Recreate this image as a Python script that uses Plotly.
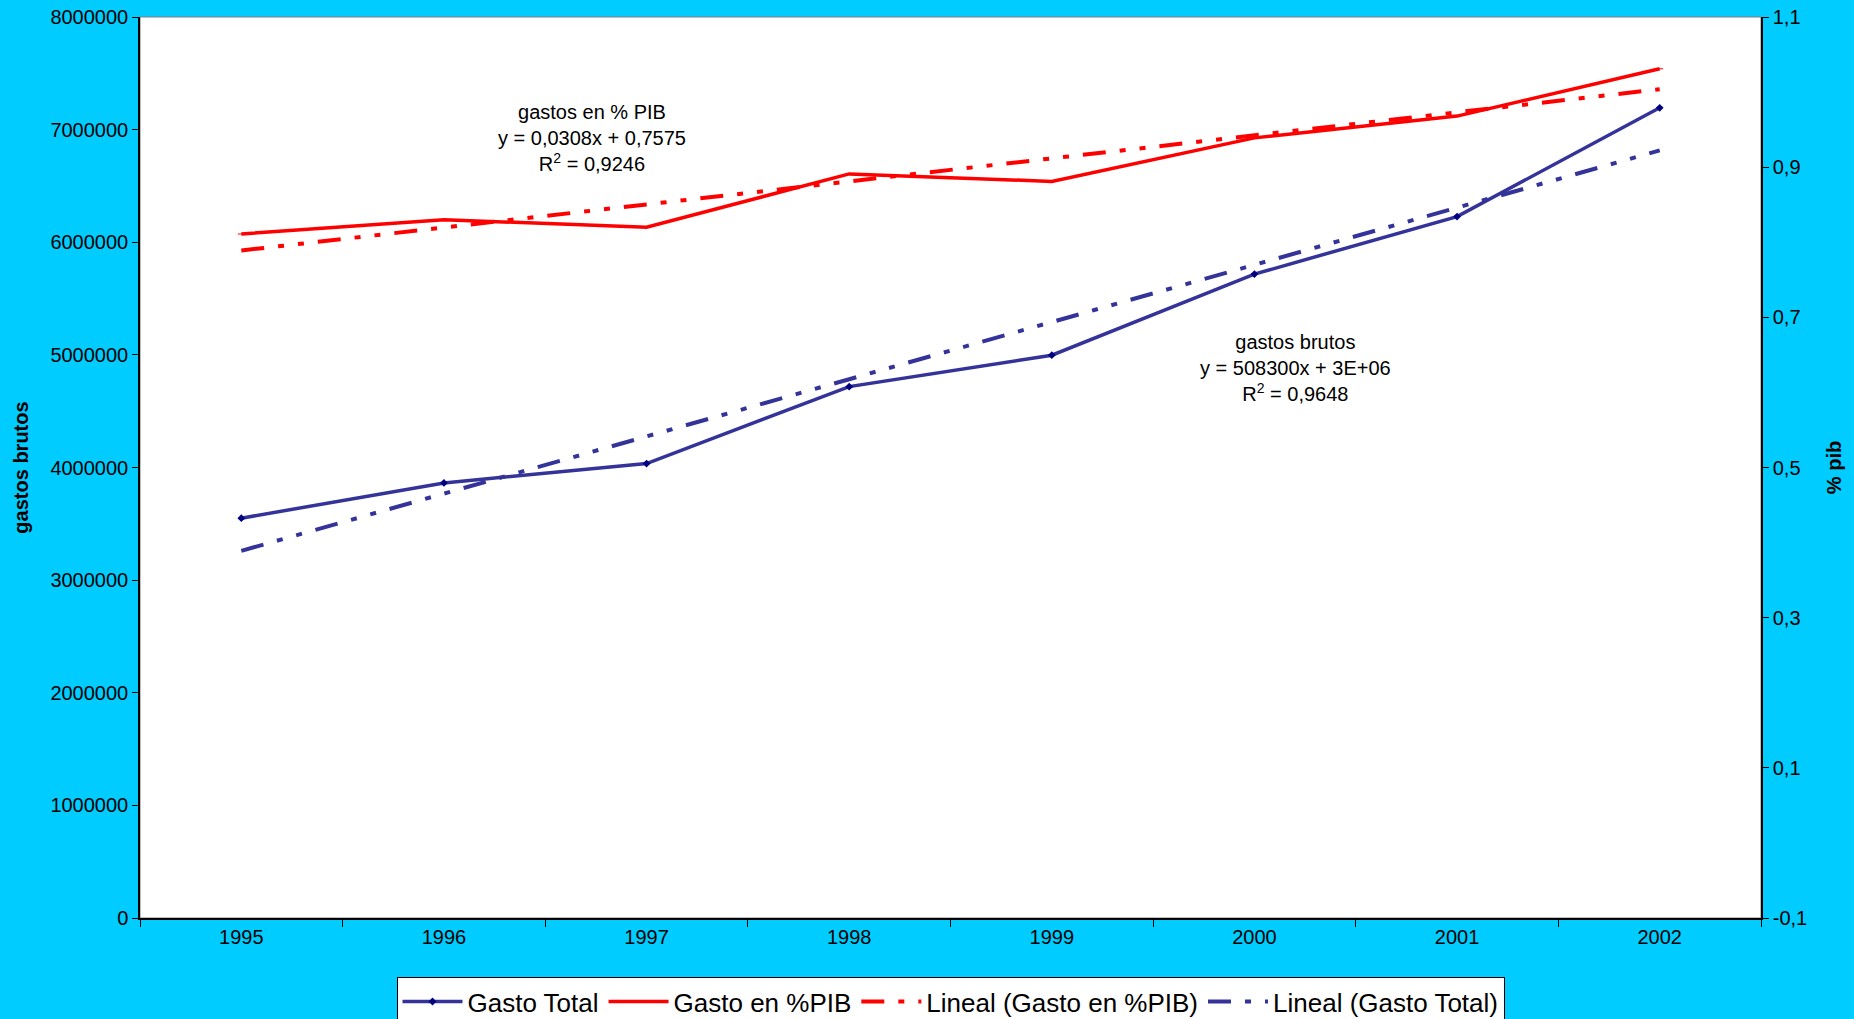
import numpy as np
import plotly.graph_objects as go

years = ["1995", "1996", "1997", "1998", "1999", "2000", "2001", "2002"]
gasto_total = [3550000, 3863000, 4035000, 4718000, 4997000, 5717000, 6228000, 7194000]
gasto_pib = [0.811, 0.830, 0.820, 0.891, 0.881, 0.939, 0.968, 1.031]

right_tickvals = [-0.1, 0.1, 0.3, 0.5, 0.7, 0.9, 1.1]
right_ticktext = ["-0,1", "0,1", "0,3", "0,5", "0,7", "0,9", "1,1"]

# linear trendlines (least squares, x = 1..n as in Excel)
xi = np.arange(1, len(years) + 1)
c_tot = np.polyfit(xi, gasto_total, 1)
c_pib = np.polyfit(xi, gasto_pib, 1)
trend_tot = np.polyval(c_tot, xi)
trend_pib = np.polyval(c_pib, xi)

BLUE = "#333399"
RED = "#FF0000"
FONT = "Liberation Sans, Arial, sans-serif"
DASH = "23px,14px,6px,14px,6px,14px"

fig = go.Figure()
fig.add_trace(go.Scatter(x=years, y=gasto_total, name="Gasto Total", mode="lines+markers",
                         line=dict(color=BLUE, width=3.5),
                         marker=dict(symbol="diamond", size=6, color="#000080"),
                         yaxis="y"))
fig.add_trace(go.Scatter(x=years, y=gasto_pib, name="Gasto en %PIB", mode="lines+markers",
                         line=dict(color=RED, width=3.5),
                         marker=dict(symbol="line-ew", size=5, color=RED, line=dict(color=RED, width=1)),
                         yaxis="y2"))
fig.add_trace(go.Scatter(x=years, y=trend_pib, name="Lineal (Gasto en %PIB)", mode="lines",
                         line=dict(color=RED, width=4, dash=DASH), yaxis="y2"))
fig.add_trace(go.Scatter(x=years, y=trend_tot, name="Lineal (Gasto Total)", mode="lines",
                         line=dict(color=BLUE, width=4, dash=DASH), yaxis="y"))

fig.update_layout(
    width=1854, height=1019,
    paper_bgcolor="#00CCFF", plot_bgcolor="white",
    margin=dict(l=140, r=93, t=17, b=101, autoexpand=False),
    font=dict(family=FONT, size=20, color="black"),
    showlegend=True,
    legend=dict(orientation="h", x=0.5, xanchor="center", y=-0.120, yanchor="bottom",
                bgcolor="white", bordercolor="black", borderwidth=1,
                font=dict(size=26, family=FONT), traceorder="normal",
                itemwidth=60, tracegroupgap=0),
    xaxis=dict(type="category", tickson="boundaries", ticks="outside", ticklen=7,
               tickcolor="black", showline=True, linecolor="black", linewidth=1.5,
               showgrid=False, zeroline=False, range=[-0.5, 7.5],
               tickfont=dict(size=20)),
    yaxis=dict(range=[0, 8000000], dtick=1000000, tickformat="d", ticks="outside",
               ticklen=6, tickcolor="black", showline=True, linecolor="black", linewidth=1.5,
               showgrid=False, zeroline=False, tickfont=dict(size=20),
               title=dict(text="<b>gastos brutos</b>", font=dict(size=20), standoff=16)),
    yaxis2=dict(range=[-0.1, 1.1], overlaying="y", side="right",
                tickvals=right_tickvals, ticktext=right_ticktext, ticks="outside",
                ticklen=6, tickcolor="black", showline=True, linecolor="black", linewidth=1.5,
                showgrid=False, zeroline=False, tickfont=dict(size=20),
                title=dict(text="<b>% pib</b>", font=dict(size=20), standoff=21)),
    yaxis3=dict(range=[0, 8000000], dtick=1000000, overlaying="y", side="left",
                ticks="inside", ticklen=6, tickcolor="black", showticklabels=False,
                showline=False, showgrid=False, zeroline=False),
    yaxis4=dict(range=[-0.1, 1.1], tickvals=right_tickvals, overlaying="y", side="right",
                ticks="inside", ticklen=6, tickcolor="black", showticklabels=False,
                showline=False, showgrid=False, zeroline=False),
    shapes=[dict(type="rect", xref="paper", yref="paper", x0=0, x1=1, y0=0, y1=1,
                 line=dict(color="#808080", width=1), layer="below")],
    annotations=[
        dict(text="gastos en % PIB<br>y = 0,0308x + 0,7575<br>R<sup>2</sup> = 0,9246",
             xref="paper", yref="paper", x=0.279, y=0.866, xanchor="center", yanchor="middle",
             showarrow=False, align="center", font=dict(size=20)),
        dict(text="gastos brutos<br>y = 508300x + 3E+06<br>R<sup>2</sup> = 0,9648",
             xref="paper", yref="paper", x=0.713, y=0.610, xanchor="center", yanchor="middle",
             showarrow=False, align="center", font=dict(size=20)),
    ],
)

fig.write_html("out.html", config={"displayModeBar": False},
               post_script="document.body.style.margin='0';document.body.style.overflow='hidden';")
